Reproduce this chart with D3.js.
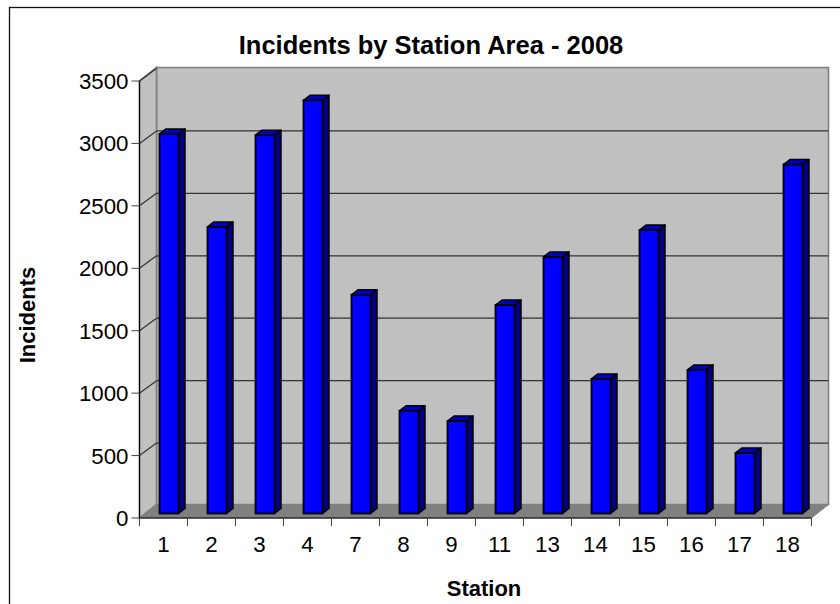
<!DOCTYPE html>
<html><head><meta charset="utf-8">
<script src="https://cdn.jsdelivr.net/npm/d3@7"></script>
<style>html,body{margin:0;padding:0;background:#fff}svg{display:block}text{font-family:"Liberation Sans",Arial,sans-serif;fill:#000}</style>
</head><body><svg id="c" width="840" height="604"></svg>
<script>
const stations=["1","2","3","4","7","8","9","11","13","14","15","16","17","18"];
const incidents=[3040,2295,3030,3310,1752,823,740,1670,2055,1078,2270,1150,485,2795];
const yTicks=[0,500,1000,1500,2000,2500,3000,3500];
const chartTitle="Incidents by Station Area - 2008";
const xTitle="Station", yTitle="Incidents";
const W=840,H=604;
const svg=d3.select("#c");
const pLeft=139.5,pRight=811.5,pBase=518,pTop=81,dx=17,dy=13.5,gridDy=12.5;
const x=d3.scaleBand().domain(stations).range([pLeft,pRight]);
const y=d3.scaleLinear().domain([0,3500]).range([pBase,pTop]);
const barW=19,bdx=6.5,bdy=5,barOffX=20,barOffY=4.5;
// frame
svg.append("rect").attr("x",9.5).attr("y",7.5).attr("width",W+20).attr("height",H+20).attr("fill","#fff").attr("stroke","#111").attr("stroke-width",1.3);
// walls
const wall="#c0c0c0",edge="#808080";
svg.append("polygon").attr("points",[[pLeft+dx,pTop-dy],[pRight+dx,pTop-dy],[pRight+dx,pBase-dy],[pLeft+dx,pBase-dy]].join(" ")).attr("fill",wall).attr("stroke",edge).attr("stroke-width",1.6);
svg.append("polygon").attr("points",[[pLeft,pTop],[pLeft+dx,pTop-dy],[pLeft+dx,pBase-dy],[pLeft,pBase]].join(" ")).attr("fill",wall).attr("stroke",edge).attr("stroke-width",1.6);
svg.append("polygon").attr("points",[[pLeft,pBase],[pLeft+dx,pBase-dy],[pRight+dx,pBase-dy],[pRight,pBase]].join(" ")).attr("fill","#808080").attr("stroke",edge).attr("stroke-width",1);
// gridlines
const grid=svg.append("g").attr("fill","none").attr("stroke","#333").attr("stroke-width",1.2);
yTicks.forEach(t=>{
  if(t>0){
    grid.append("path").attr("d",`M${pLeft},${y(t)}L${pLeft+dx},${y(t)-gridDy}`);
    if(t<3500) grid.append("path").attr("d",`M${pLeft+dx},${y(t)-gridDy}H${pRight+dx}`);
  }
});
// bars
const bars=svg.append("g").selectAll("g").data(stations).join("g");
const pt=(d,i)=>({x0:x(d)+barOffX,y0:pBase-barOffY,yt:y(incidents[i])-barOffY});
bars.append("polygon").attr("fill","#000080").attr("stroke","#000").attr("stroke-width",1.5).attr("stroke-linejoin","round")
 .attr("points",(d,i)=>{const p=pt(d,i);const r=p.x0+barW;return [[r,p.yt],[r+bdx,p.yt-bdy],[r+bdx,p.y0-bdy],[r,p.y0]].join(" ")});
bars.append("polygon").attr("fill","#0000c0").attr("stroke","#000").attr("stroke-width",1.5).attr("stroke-linejoin","round")
 .attr("points",(d,i)=>{const p=pt(d,i);const r=p.x0+barW;return [[p.x0,p.yt],[p.x0+bdx,p.yt-bdy],[r+bdx,p.yt-bdy],[r,p.yt]].join(" ")});
bars.append("rect").attr("fill","#0000ff").attr("stroke","#000").attr("stroke-width",1.8)
 .attr("x",(d,i)=>pt(d,i).x0).attr("y",(d,i)=>pt(d,i).yt).attr("width",barW).attr("height",(d,i)=>pt(d,i).y0-pt(d,i).yt);
// axes
const ax=svg.append("g").attr("stroke","#000").attr("fill","none");
ax.append("path").attr("d",`M${pLeft},${pTop}V${pBase}H${pRight}`).attr("stroke-width",1.2);
yTicks.forEach(t=>ax.append("path").attr("d",`M${pLeft-8},${y(t)}H${pLeft}`).attr("stroke","#444"));
stations.concat(["end"]).forEach((s,i)=>{const px=pLeft+i*x.bandwidth();ax.append("path").attr("d",`M${px},${pBase}V${pBase+8}`).attr("stroke","#444");});
const lab=svg.append("g").attr("font-size",22.3);
yTicks.forEach(t=>lab.append("text").attr("x",pLeft-11).attr("y",y(t)+8).attr("text-anchor","end").text(t));
stations.forEach(s=>lab.append("text").attr("x",x(s)+x.bandwidth()/2).attr("y",552).attr("text-anchor","middle").text(s));
svg.append("text").attr("x",431).attr("y",54).attr("text-anchor","middle").attr("font-size",25.5).attr("font-weight","bold").text(chartTitle);
svg.append("text").attr("x",484).attr("y",596).attr("text-anchor","middle").attr("font-size",22).attr("font-weight","bold").text(xTitle);
svg.append("text").attr("transform","translate(35,315) rotate(-90)").attr("text-anchor","middle").attr("font-size",22).attr("font-weight","bold").text(yTitle);
</script></body></html>
